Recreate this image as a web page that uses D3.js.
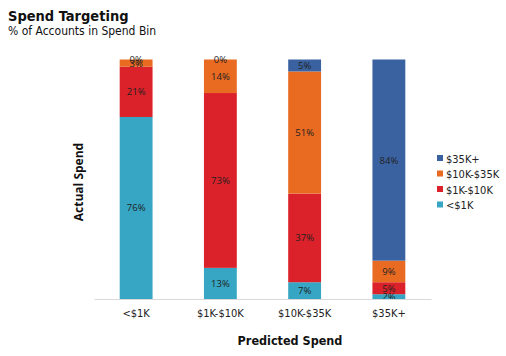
<!DOCTYPE html>
<html><head><meta charset="utf-8">
<script src="https://cdn.jsdelivr.net/npm/d3@7"></script>
<style>body{margin:0;background:#fff}svg{display:block}text{font-family:"Open Sans","DejaVu Sans",sans-serif}</style>
</head><body>
<svg id="c" width="506" height="356"></svg>
<script>
const categories = ["<$1K", "$1K-$10K", "$10K-$35K", "$35K+"];
const seriesNames = ["<$1K", "$1K-$10K", "$10K-$35K", "$35K+"];
const under1K   = [76, 13, 7, 2];
const k1to10    = [21, 73, 37, 5];
const k10to35   = [3, 14, 51, 9];
const over35K   = [0, 0, 5, 84];
const colors = ["#36A6C4", "#DB2129", "#E96A21", "#3A62A0"];

const svg = d3.select("#c");
const rows = categories.map((c, i) => ({cat: c, "<$1K": under1K[i], "$1K-$10K": k1to10[i], "$10K-$35K": k10to35[i], "$35K+": over35K[i]}));
const stack = d3.stack().keys(seriesNames)(rows);

const x = d3.scaleBand().domain(categories).range([94, 431]).paddingInner(0.61).paddingOuter(0.305);
const y = d3.scaleLinear().domain([0, 100]).range([299, 59.5]);

svg.append("g").selectAll("g").data(stack).join("g")
  .attr("fill", (d, i) => colors[i])
  .selectAll("rect").data(d => d).join("rect")
  .attr("x", d => x(d.data.cat))
  .attr("width", x.bandwidth())
  .attr("y", d => y(d[1]))
  .attr("height", d => y(d[0]) - y(d[1]));

svg.append("g").selectAll("g").data(stack).join("g")
  .selectAll("text").data(d => d).join("text")
  .attr("x", d => x(d.data.cat) + x.bandwidth() / 2)
  .attr("y", d => (y(d[0]) + y(d[1])) / 2 + 3.5)
  .attr("text-anchor", "middle")
  .attr("font-size", 9.5)
  .attr("fill", "#222")
  .text(d => (d[1] - d[0]) + "%");

const xAxis = svg.append("g").attr("transform", "translate(0,299)")
  .call(d3.axisBottom(x).tickSize(0).tickPadding(10));
xAxis.select(".domain").attr("stroke", "#d9d9d9").attr("stroke-width", 1);
xAxis.selectAll("text").attr("font-size", 11).attr("fill", "#222")
  .style("font-family", "'DejaVu Sans Condensed','Open Sans',sans-serif");

svg.append("text").attr("x", 8).attr("y", 21).attr("font-size", 14.5).attr("font-weight", "bold").attr("fill", "#111")
  .style("font-family", "'DejaVu Sans Condensed','DejaVu Sans',sans-serif")
  .text("Spend Targeting");
svg.append("text").attr("x", 8).attr("y", 34.5).attr("font-size", 12).attr("fill", "#111")
  .style("font-family", "'DejaVu Sans Condensed','DejaVu Sans',sans-serif")
  .text("% of Accounts in Spend Bin");

svg.append("text").attr("transform", "translate(83,182) rotate(-90)").attr("text-anchor", "middle")
  .attr("font-size", 12).attr("font-weight", "bold").attr("fill", "#111").text("Actual Spend");
svg.append("text").attr("x", 290).attr("y", 345).attr("text-anchor", "middle")
  .attr("font-size", 12.5).attr("font-weight", "bold").attr("fill", "#111")
  .style("font-family", "'DejaVu Sans Condensed','DejaVu Sans',sans-serif")
  .text("Predicted Spend");

const legendKeys = seriesNames.slice().reverse();
const legendColors = colors.slice().reverse();
const lg = svg.append("g").selectAll("g").data(legendKeys).join("g")
  .attr("transform", (d, i) => `translate(437,${159 + i * 15.5})`);
lg.append("rect").attr("x", 0).attr("y", -4).attr("width", 6).attr("height", 6).attr("fill", (d, i) => legendColors[i]);
lg.append("text").attr("x", 9).attr("y", 3.5).attr("font-size", 11).attr("fill", "#222")
  .style("font-family", "'DejaVu Sans Condensed','Open Sans',sans-serif")
  .text(d => d);
</script>
</body></html>
